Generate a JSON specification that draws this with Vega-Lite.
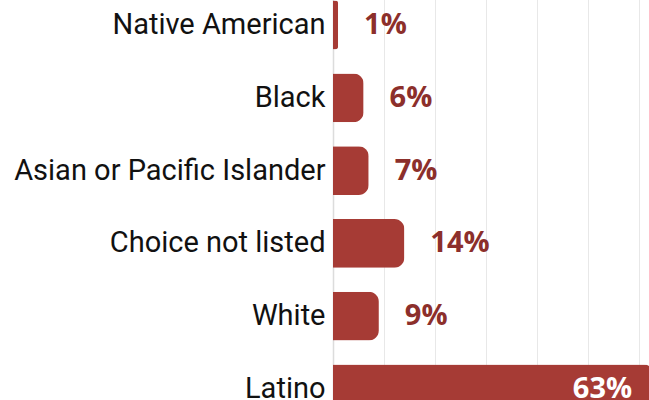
{
  "$schema": "https://vega.github.io/schema/vega-lite/v6.json",
  "autosize": {"type": "none"},
  "padding": {"left": 333, "top": 0, "right": 0, "bottom": 0},
  "width": 316,
  "height": 400,
  "background": "white",
  "config": {"view": {"stroke": null}},
  "data": {
    "values": [
      {"group": "Native American", "share": 0.01},
      {"group": "Black", "share": 0.06},
      {"group": "Asian or Pacific Islander", "share": 0.07},
      {"group": "Choice not listed", "share": 0.14},
      {"group": "White", "share": 0.09},
      {"group": "Latino", "share": 0.63}
    ]
  },
  "encoding": {
    "y": {
      "field": "group",
      "type": "nominal",
      "sort": null,
      "scale": {"range": [-11.4, 425.4], "paddingInner": 0.33, "paddingOuter": 0.165},
      "axis": {
        "title": null,
        "ticks": false,
        "labelFont": "Roboto",
        "labelFontSize": 29,
        "labelColor": "#111111",
        "labelPadding": 8,
        "labelLimit": 400,
        "domainColor": "#dcdcdc",
        "domainWidth": 1.5,
        "grid": false
      }
    },
    "x": {
      "field": "share",
      "type": "quantitative",
      "scale": {"domain": [0, 0.62], "nice": false},
      "axis": {
        "title": null,
        "labels": false,
        "ticks": false,
        "domain": false,
        "values": [0.1, 0.2, 0.3, 0.4, 0.5, 0.6],
        "grid": true,
        "gridColor": "#e8e8e8",
        "gridWidth": 1
      }
    }
  },
  "layer": [
    {
      "mark": {"type": "bar", "color": "#a63b35", "cornerRadiusEnd": 10}
    },
    {
      "transform": [{"filter": "datum.share < 0.5"}],
      "mark": {"type": "text", "align": "left", "baseline": "middle", "dx": 26, "font": "Open Sans", "fontWeight": "bold", "fontSize": 29, "color": "#8c2f2b"},
      "encoding": {"text": {"field": "share", "type": "quantitative", "format": ".0%"}}
    },
    {
      "transform": [{"filter": "datum.share >= 0.5"}],
      "mark": {"type": "text", "align": "right", "baseline": "middle", "dx": -22, "font": "Open Sans", "fontWeight": "bold", "fontSize": 29, "color": "white"},
      "encoding": {"text": {"field": "share", "type": "quantitative", "format": ".0%"}}
    }
  ]
}
